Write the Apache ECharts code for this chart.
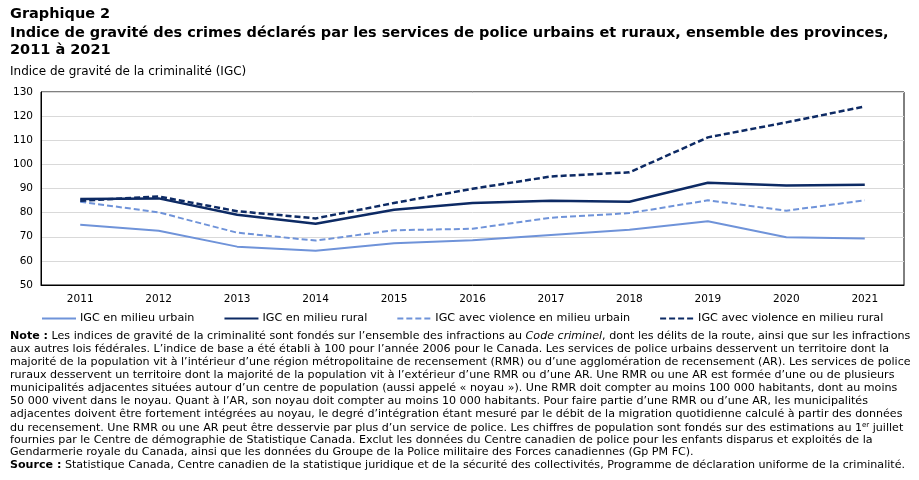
<!DOCTYPE html>
<html>
<head>
<meta charset="utf-8">
<script src="https://cdn.jsdelivr.net/npm/echarts@6/dist/echarts.min.js"></script>
<style>
  html, body { margin: 0; padding: 0; background: #fff; }
  #chart { width: 919px; height: 480px; }
</style>
</head>
<body>
<div id="chart"></div>
<script>
// années
const years = ['2011', '2012', '2013', '2014', '2015', '2016', '2017', '2018', '2019', '2020', '2021']

// indices
const urbain = [75.0, 72.5, 65.9, 64.2, 67.3, 68.6, 70.7, 72.9, 76.4, 69.8, 69.3]
const rural = [85.6, 85.9, 79.1, 75.4, 81.2, 84.0, 84.9, 84.5, 92.4, 91.2, 91.6]
const violUrbain = [84.5, 80.1, 71.7, 68.4, 72.7, 73.3, 77.9, 79.8, 85.1, 80.8, 85.1]
const violRural = [84.9, 86.7, 80.6, 77.6, 84.0, 89.9, 95.0, 96.7, 111.2, 117.4, 124.0]

const seriesNames = [
  'IGC en milieu urbain',
  'IGC en milieu rural',
  'IGC avec violence en milieu urbain',
  'IGC avec violence en milieu rural',
]

const lightBlue = '#6f93d9'
const darkBlue = '#0d2a64'
const txtFont = '"DejaVu Sans", sans-serif'

const noteLines = [
  '{b|Note :} Les indices de gravité de la criminalité sont fondés sur l’ensemble des infractions au {i|Code criminel}, dont les délits de la route, ainsi que sur les infractions',
  'aux autres lois fédérales. L’indice de base a été établi à 100 pour l’année 2006 pour le Canada. Les services de police urbains desservent un territoire dont la',
  'majorité de la population vit à l’intérieur d’une région métropolitaine de recensement (RMR) ou d’une agglomération de recensement (AR). Les services de police',
  'ruraux desservent un territoire dont la majorité de la population vit à l’extérieur d’une RMR ou d’une AR. Une RMR ou une AR est formée d’une ou de plusieurs',
  'municipalités adjacentes situées autour d’un centre de population (aussi appelé « noyau »). Une RMR doit compter au moins 100 000 habitants, dont au moins',
  '50 000 vivent dans le noyau. Quant à l’AR, son noyau doit compter au moins 10 000 habitants. Pour faire partie d’une RMR ou d’une AR, les municipalités',
  'adjacentes doivent être fortement intégrées au noyau, le degré d’intégration étant mesuré par le débit de la migration quotidienne calculé à partir des données',
  'du recensement. Une RMR ou une AR peut être desservie par plus d’un service de police. Les chiffres de population sont fondés sur des estimations au 1{sup|er} juillet',
  'fournies par le Centre de démographie de Statistique Canada. Exclut les données du Centre canadien de police pour les enfants disparus et exploités de la',
  'Gendarmerie royale du Canada, ainsi que les données du Groupe de la Police militaire des Forces canadiennes (Gp PM FC).',
  '{b|Source :} Statistique Canada, Centre canadien de la statistique juridique et de la sécurité des collectivités, Programme de déclaration uniforme de la criminalité.',
]

const myChart = echarts.init(document.getElementById('chart'))

const noteSize = 11.1
const textRich = {
  b: { fontFamily: txtFont, fontSize: noteSize, fontWeight: 'bold', fill: '#000' },
  i: { fontFamily: txtFont, fontSize: noteSize, fontStyle: 'italic', fill: '#000' },
  sup: { fontFamily: txtFont, fontSize: 7, fill: '#000', padding: [0, 0, 7, 0] },
}

const graphics = [
  // titre
  {
    type: 'text', left: 10, top: 7,
    style: { text: 'Graphique 2', font: 'bold 14.5px ' + txtFont, fill: '#000' },
  },
  {
    type: 'text', left: 10, top: 25,
    style: {
      text: 'Indice de gravité des crimes déclarés par les services de police urbains et ruraux, ensemble des provinces,\n2011 à 2021',
      font: 'bold 14.5px ' + txtFont, fill: '#000', lineHeight: 17,
    },
  },
  // titre de l'axe y
  {
    type: 'text', left: 10, top: 66,
    style: { text: 'Indice de gravité de la criminalité (IGC)', font: '12px ' + txtFont, fill: '#000' },
  },
]

noteLines.forEach((line, i) => {
  graphics.push({
    type: 'text', left: 10, top: 331 + i * 12.9,
    style: { text: line, font: noteSize + 'px ' + txtFont, fill: '#000', rich: textRich },
  })
})

const mkSeries = (name, data, color, dashed, width) => ({
  name: name,
  type: 'line',
  data: data,
  symbol: 'none',
  lineStyle: { color: color, width: width, type: dashed ? [6, 3] : 'solid' },
  itemStyle: { color: color },
})

const option = {
  animation: false,
  textStyle: { fontFamily: txtFont },
  graphic: graphics,
  grid: {
    left: 41, right: 15, top: 92, bottom: 195,
    show: true, borderColor: '#000', borderWidth: 1,
  },
  legend: {
    top: 313,
    left: 41,
    padding: 0,
    itemWidth: 34,
    itemHeight: 10,
    itemGap: 29,
    itemStyle: { opacity: 0 },
    textStyle: { fontFamily: txtFont, fontSize: 11.2, color: '#000', padding: [0, 0, 0, -1] },
    data: seriesNames,
  },
  xAxis: {
    type: 'category',
    data: years,
    axisLine: { lineStyle: { color: '#000' } },
    axisTick: { show: false },
    axisLabel: { color: '#000', fontFamily: txtFont, fontSize: 10.5, margin: 9 },
  },
  yAxis: {
    type: 'value',
    min: 50, max: 130, interval: 10,
    axisLine: { show: true, lineStyle: { color: '#000' } },
    axisTick: { show: false },
    axisLabel: { color: '#000', fontFamily: txtFont, fontSize: 10.5, margin: 8 },
    splitLine: { lineStyle: { color: '#d9d9d9', width: 1 } },
  },
  series: [
    mkSeries(seriesNames[0], urbain, lightBlue, false, 2),
    mkSeries(seriesNames[1], rural, darkBlue, false, 2.5),
    mkSeries(seriesNames[2], violUrbain, lightBlue, true, 2),
    mkSeries(seriesNames[3], violRural, darkBlue, true, 2.5),
  ],
}

myChart.setOption(option)
</script>
</body>
</html>
